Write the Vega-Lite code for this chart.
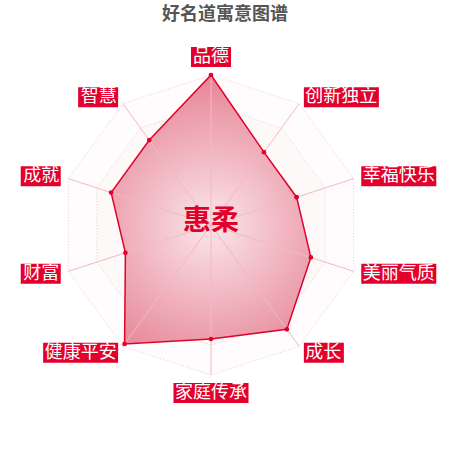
{
  "$schema": "https://vega.github.io/schema/vega-lite/v6.json",
  "width": 450,
  "height": 450,
  "padding": 0,
  "autosize": "none",
  "background": "white",
  "title": {
    "text": "好名道寓意图谱",
    "fontSize": 18,
    "fontWeight": "bold",
    "color": "#555555",
    "font": "Noto Sans CJK SC",
    "anchor": "middle",
    "frame": "group",
    "offset": -24
  },
  "config": {"view": {"stroke": null}, "font": "Noto Sans CJK SC"},
  "datasets": {
    "scores": [
      {"name": "品德", "score": 100},
      {"name": "创新独立", "score": 60},
      {"name": "幸福快乐", "score": 60},
      {"name": "美丽气质", "score": 70},
      {"name": "成长", "score": 86},
      {"name": "家庭传承", "score": 76},
      {"name": "健康平安", "score": 98},
      {"name": "财富", "score": 60},
      {"name": "成就", "score": 70},
      {"name": "智慧", "score": 70}
    ],
    "levels": [
      {"level": 0.2},
      {"level": 0.4},
      {"level": 0.6},
      {"level": 0.8},
      {"level": 1.0}
    ],
    "center": [{"name": "惠柔", "cx": 0, "cy": 0}]
  },
  "layer": [
    {
      "data": {"name": "levels"},
      "transform": [{"calculate": "0", "as": "cx"}, {"calculate": "0", "as": "cy"}],
      "mark": {
        "type": "point",
        "shape": "M0,-1L0.5878,-0.809L0.9511,-0.309L0.9511,0.309L0.5878,0.809L0,1L-0.5878,0.809L-0.9511,0.309L-0.9511,-0.309L-0.5878,-0.809Z",
        "filled": false,
        "opacity": 1,
        "stroke": "#f0c6cf",
        "strokeWidth": 1,
        "strokeDash": [1, 2],
        "fill": "#f5d5dc",
        "fillOpacity": 0.08
      },
      "encoding": {
        "x": {"field": "cx", "type": "quantitative", "scale": {"domain": [-1.40667, 1.59333], "nice": false, "zero": false}, "axis": null},
        "y": {"field": "cy", "type": "quantitative", "scale": {"domain": [-1.5, 1.5], "nice": false, "zero": false}, "axis": null},
        "size": {"field": "level", "type": "quantitative", "scale": {"type": "pow", "exponent": 2, "domain": [0, 1], "range": [0, 90000]}, "legend": null},
        "order": {"field": "level", "sort": "descending"}
      }
    },
    {
      "data": {"name": "scores"},
      "transform": [
        {"window": [{"op": "row_number", "as": "rn"}]},
        {"calculate": "(datum.rn - 1) * PI / 5", "as": "a"},
        {"calculate": "sin(datum.a) * datum.score / 100", "as": "px"},
        {"calculate": "cos(datum.a) * datum.score / 100", "as": "py"},
        {"calculate": "sin(datum.a)", "as": "ex"},
        {"calculate": "cos(datum.a)", "as": "ey"},
        {"calculate": "0", "as": "cx"},
        {"calculate": "0", "as": "cy"},
        {"calculate": "sin(datum.a) * 1.0533", "as": "lx"},
        {"calculate": "cos(datum.a) * 1.0533", "as": "ly"},
        {"calculate": "datum.rn == 1 ? 'T' : datum.rn == 6 ? 'B' : datum.rn < 6 ? 'R' : 'L'", "as": "side"},
        {"calculate": "datum.side + length(datum.name)", "as": "kind"}
      ],
      "encoding": {
        "x": {"field": "px", "type": "quantitative", "scale": {"domain": [-1.40667, 1.59333], "nice": false, "zero": false}, "axis": null},
        "y": {"field": "py", "type": "quantitative", "scale": {"domain": [-1.5, 1.5], "nice": false, "zero": false}, "axis": null}
      },
      "layer": [
        {
          "mark": {
            "type": "line",
            "interpolate": "linear-closed",
            "stroke": "#e2002b",
            "strokeWidth": 1.5,
            "fill": {
              "gradient": "radial",
              "x1": 0.5, "y1": 0.56, "r1": 0,
              "x2": 0.5, "y2": 0.56, "r2": 0.62,
              "stops": [
                {"offset": 0, "color": "#fbe6ea"},
                {"offset": 1, "color": "#e47a8d"}
              ]
            }
          },
          "encoding": {"order": {"field": "rn", "type": "quantitative"}}
        },
        {
          "mark": {"type": "rule", "stroke": "#f4b8c4", "strokeWidth": 1},
          "encoding": {
            "x": {"field": "cx", "type": "quantitative"},
            "y": {"field": "cy", "type": "quantitative"},
            "x2": {"field": "ex"},
            "y2": {"field": "ey"}
          }
        },
        {
          "mark": {"type": "point", "filled": true, "color": "#e2002b", "size": 22, "opacity": 1}
        },
        {
          "mark": {"type": "point", "filled": true, "size": 400, "opacity": 1, "color": "#e3002c", "strokeWidth": 0},
          "encoding": {
            "x": {"field": "lx", "type": "quantitative"},
            "y": {"field": "ly", "type": "quantitative"},
            "shape": {
              "field": "kind",
              "type": "nominal",
              "scale": {
                "domain": ["T2", "B4", "R2", "R4", "L2", "L4"],
                "range": [
                  "M-2,-2L2,-2L2,0L-2,0Z",
                  "M-3.75,0L3.75,0L3.75,2L-3.75,2Z",
                  "M0,-1L4,-1L4,1L0,1Z",
                  "M0,-1L7.5,-1L7.5,1L0,1Z",
                  "M-4,-1L0,-1L0,1L-4,1Z",
                  "M-7.5,-1L0,-1L0,1L-7.5,1Z"
                ]
              },
              "legend": null
            }
          }
        },
        {
          "mark": {
            "type": "text",
            "color": "white",
            "fontSize": 18,
            "baseline": "middle",
            "align": {"expr": "datum.side == 'R' ? 'left' : datum.side == 'L' ? 'right' : 'center'"},
            "dx": {"expr": "datum.side == 'R' ? 1.5 : datum.side == 'L' ? -1.5 : 0"},
            "dy": {"expr": "datum.side == 'T' ? -10 : datum.side == 'B' ? 10 : 0"}
          },
          "encoding": {
            "x": {"field": "lx", "type": "quantitative"},
            "y": {"field": "ly", "type": "quantitative"},
            "text": {"field": "name"}
          }
        }
      ]
    },
    {
      "data": {"name": "center"},
      "mark": {"type": "text", "fontSize": 28, "fontWeight": "bold", "color": "#e0002a", "baseline": "middle", "dy": -3},
      "encoding": {
        "x": {"field": "cx", "type": "quantitative", "scale": {"domain": [-1.40667, 1.59333], "nice": false, "zero": false}, "axis": null},
        "y": {"field": "cy", "type": "quantitative", "scale": {"domain": [-1.5, 1.5], "nice": false, "zero": false}, "axis": null},
        "text": {"field": "name"}
      }
    }
  ]
}
